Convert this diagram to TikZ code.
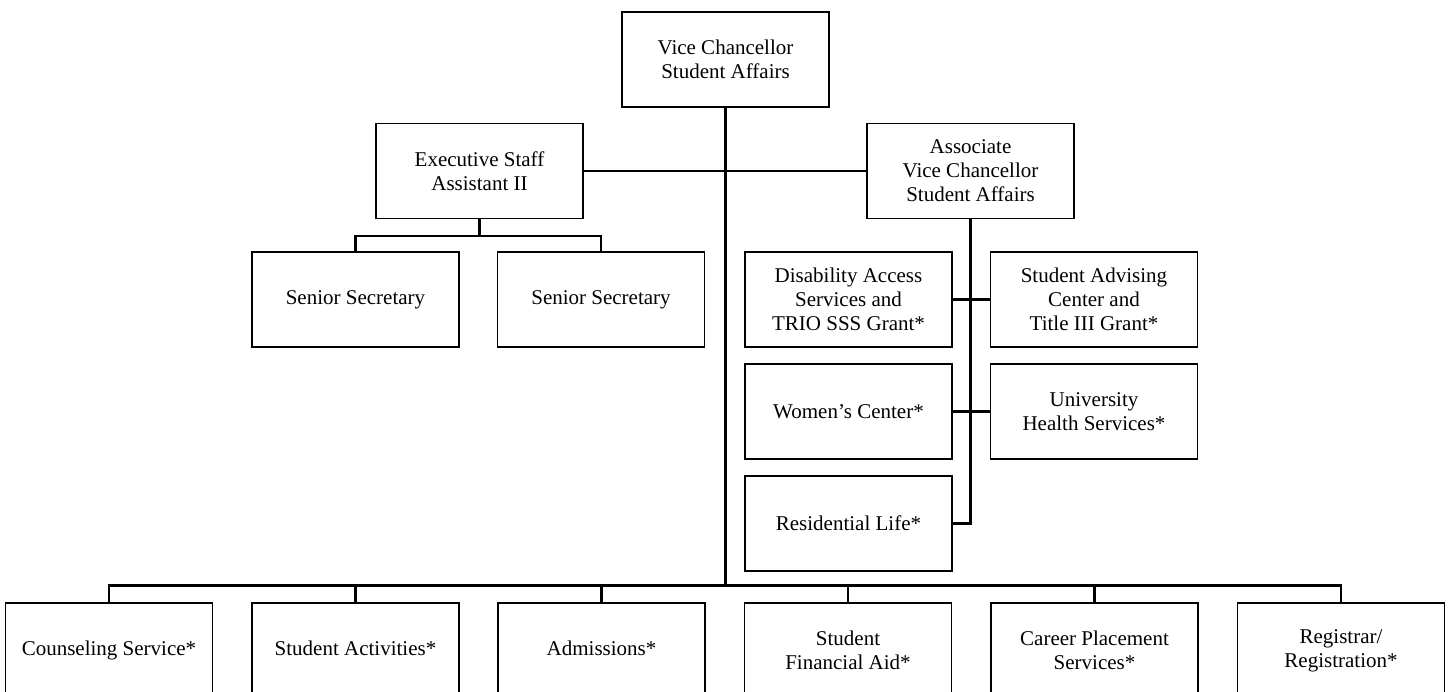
\documentclass[tikz,border=0pt]{standalone}
\usepackage{fontspec}
\setmainfont{Liberation Serif}
\begin{document}
\begin{tikzpicture}[x=1pt,y=-1pt,
  unit/.style={draw, line width=1.3pt, rectangle, minimum width=207pt,
    minimum height=95pt, align=center, inner sep=2pt,
    font=\fontsize{21}{24}\selectfont},
  link/.style={line width=2.6pt}]
\useasboundingbox (0,0) rectangle (1448,692);
\clip (0,0) rectangle (1448,692);
\fill[white] (0,0) rectangle (1448,692);

% top level
\node[unit] (vc) at (725.5,59.5) {Vice Chancellor\\Student Affairs};
\node[unit] (exec) at (479.5,171) {Executive Staff\\Assistant II};
\node[unit] (assoc) at (970.5,171) {Associate\\Vice Chancellor\\Student Affairs};

% executive staff assistant reports
\node[unit] (ss1) at (355.5,299.5) {Senior Secretary};
\node[unit] (ss2) at (601,299.5) {Senior Secretary};

% associate vice chancellor units
\node[unit] (dis) at (848.5,299.5) {Disability Access\\Services and\\TRIO SSS Grant*};
\node[unit] (adv) at (1094,299.5) {Student Advising\\Center and\\Title III Grant*};
\node[unit] (wom) at (848.5,411.5) {Women’s Center*};
\node[unit] (uhs) at (1094,411.5) {University\\Health Services*};
\node[unit] (res) at (848.5,523.5) {Residential Life*};

% bottom row of departments
\node[unit] (b1) at (109,650.5) {\strut Counseling Service*};
\node[unit] (b2) at (355.5,650.5) {\strut Student Activities*};
\node[unit] (b3) at (601.5,650.5) {\strut Admissions*};
\node[unit] (b4) at (848,650.5) {Student\\Financial Aid*};
\node[unit] (b5) at (1094.5,650.5) {Career Placement\\Services*};
\node[unit] (b6) at (1341,650.5) {Registrar/\\Registration*};

% connectors
\coordinate (bus) at (725.5,585.5);
\draw[link] (vc.south) -- (bus);
\draw[link] (exec.east) -- (assoc.west);

\draw[link] (exec.south) -- ++(0,17) coordinate (ebus);
\draw[link] (ss1.north) |- (ebus) -| (ss2.north);

\draw[link] (assoc.south) -- (assoc.south |- res.east) -- (res.east);
\draw[link] (dis.east) -- (adv.west);
\draw[link] (wom.east) -- (uhs.west);

\draw[link] (b1.north) |- (bus) -| (b6.north);
\foreach \b in {b2,b3,b4,b5}
  \draw[link] (\b.north) -- (\b.north |- bus);
\end{tikzpicture}
\end{document}
